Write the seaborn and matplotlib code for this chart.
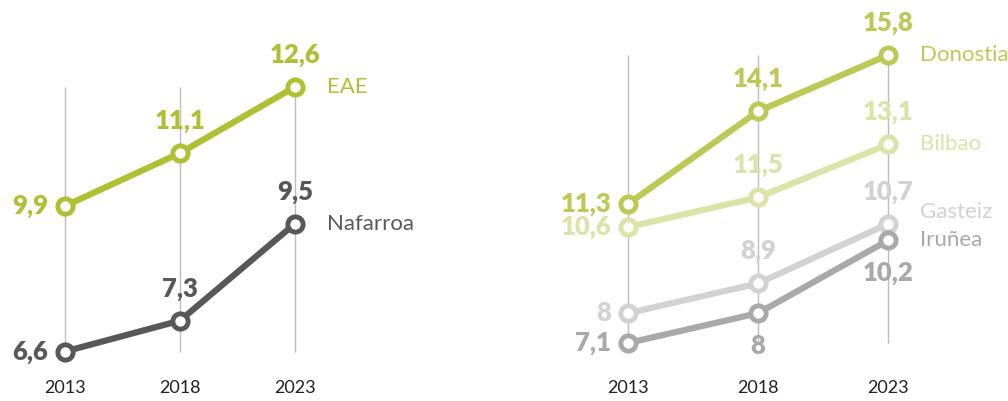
import matplotlib
matplotlib.use("Agg")
import matplotlib.pyplot as plt
import seaborn as sns
import pandas as pd

years = [2013, 2018, 2023]

# left panel
eae = [9.9, 11.1, 12.6]
nafarroa = [6.6, 7.3, 9.5]

# right panel
donostia = [11.3, 14.1, 15.8]
bilbao = [10.6, 11.5, 13.1]
gasteiz = [8.0, 8.9, 10.7]
irunea = [7.1, 8.0, 10.2]

sns.set_theme(style="white")
plt.rcParams['font.family'] = ['Lato', 'DejaVu Sans']

fig = plt.figure(figsize=(10.08, 4.01), dpi=100)
# same vertical frame for both panels, different scales
ax_l = fig.add_axes([7.5 / 1008, 5.4 / 401, 345 / 1008, 366 / 401])
ax_r = fig.add_axes([563 / 1008, 5.4 / 401, 390 / 1008, 366 / 401])

# name, values, colour, label placement per point, name nudge
left_series = [
    ('EAE', eae, '#afc033', ['left', 'above', 'above'], 0),
    ('Nafarroa', nafarroa, '#58585a', ['left', 'above', 'above'], 0),
]
right_series = [
    ('Donostia', donostia, '#bcc955', ['left', 'above', 'above'], 0),
    ('Bilbao', bilbao, '#dce3a6', ['left', 'above', 'above'], 0),
    ('Gasteiz', gasteiz, '#d2d2d2', ['left', 'above', 'above'], 12),
    ('Iruñea', irunea, '#a9a9ac', ['left', 'below', 'below'], 0),
]

offsets = {'left': (-17, 0, 'right'), 'above': (0, 32, 'center'), 'below': (0, -33, 'center')}


def fmt(v):
    s = f"{v:.1f}".replace('.', ',')
    return s[:-2] if s.endswith(',0') else s


def draw_panel(ax, series, ylim):
    allvals = [v for _, vals, _, _, _ in series for v in vals]
    ax.vlines(years, min(allvals), max(allvals), color='#bdbdbd', lw=1, zorder=0)
    for name, vals, col, places, nudge in series:
        df = pd.DataFrame({'year': years, 'value': vals})
        sns.lineplot(data=df, x='year', y='value', ax=ax, color=col, lw=4.5,
                     marker='o', markersize=11, markerfacecolor='white',
                     markeredgecolor=col, markeredgewidth=3.5, zorder=3)
        for x, v, p in zip(years, vals, places):
            dx, dy, ha = offsets[p]
            ax.annotate(fmt(v), (x, v), xytext=(dx, dy), textcoords='offset pixels',
                        ha=ha, va='center', fontsize=18.5, fontweight='heavy', color=col,
                        zorder=4)
        ax.annotate(name, (years[-1], vals[-1]), xytext=(32, nudge), textcoords='offset pixels',
                    ha='left', va='center', fontsize=16, color=col)
    for x in years:
        ax.annotate(str(x), (x, 0), xycoords=('data', 'axes fraction'), xytext=(0, 8),
                    textcoords='offset pixels', ha='center', va='center',
                    fontsize=13, color='#222222')
    ax.set_xlim(2010.5, 2025.5)
    ax.set_ylim(*ylim)
    ax.set_xlabel('')
    ax.set_ylabel('')
    ax.set_xticks([])
    ax.set_yticks([])
    for s in ax.spines.values():
        s.set_visible(False)
    ax.patch.set_alpha(0)


draw_panel(ax_l, left_series, (5.6, 13.9))
draw_panel(ax_r, right_series, (5.51, 16.57))

fig.savefig('out.png', dpi=100)
